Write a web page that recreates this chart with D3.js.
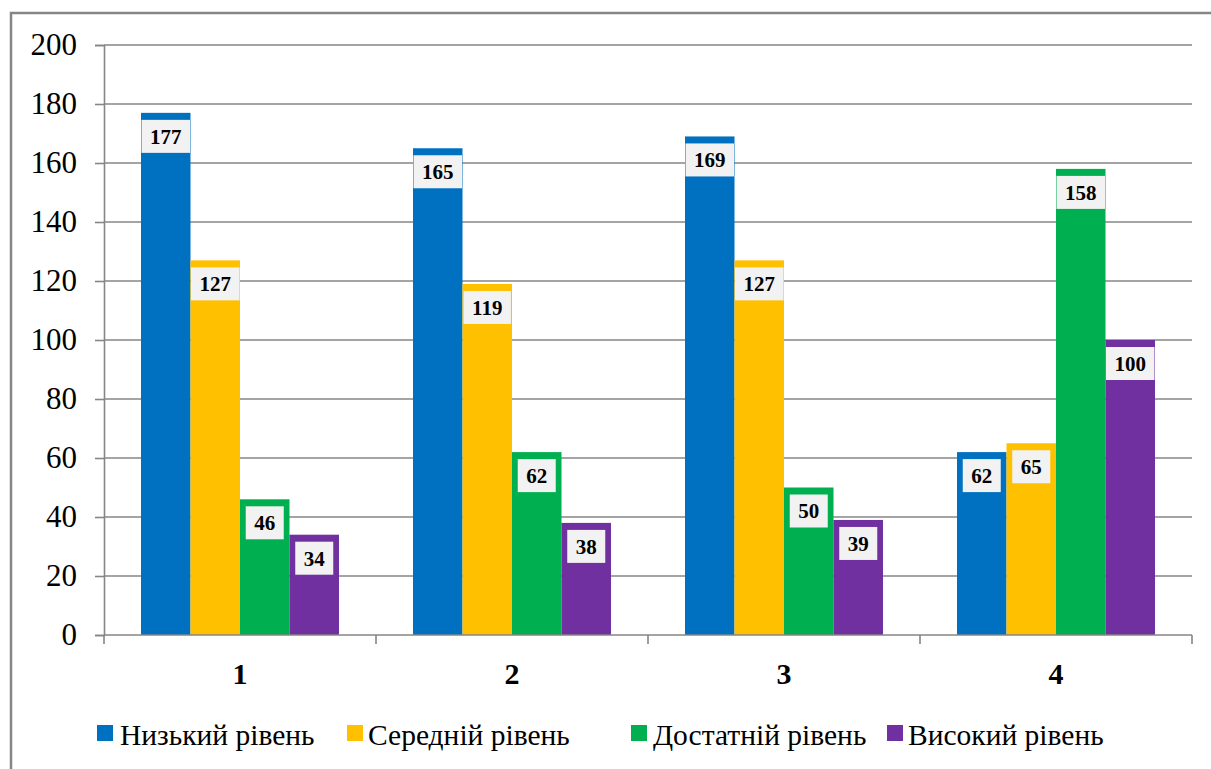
<!DOCTYPE html>
<html><head><meta charset="utf-8">
<script src="https://cdn.jsdelivr.net/npm/d3@7"></script>
<style>body{margin:0;background:#fff}svg{display:block}svg text{font-family:"Liberation Serif","Times New Roman",Tinos,"DejaVu Serif",serif}</style>
</head><body>
<svg id="c" width="1211" height="769"></svg>
<script>
const categories = ["1", "2", "3", "4"];
const seriesNames = ["Низький рівень", "Середній рівень", "Достатній рівень", "Високий рівень"];
const seriesColors = ["#0070C0", "#FFC000", "#00B050", "#7030A0"];
const low = [177, 165, 169, 62];
const medium = [127, 119, 127, 65];
const sufficient = [46, 62, 50, 158];
const high = [34, 38, 39, 100];
const yTicks = [0, 20, 40, 60, 80, 100, 120, 140, 160, 180, 200];

const seriesValues = [low, medium, sufficient, high];
const svg = d3.select("#c");
const serif = '"Liberation Serif","Times New Roman",Tinos,"DejaVu Serif",serif';

// outer border
svg.append("rect").attr("x", 11).attr("y", 13).attr("width", 1260).attr("height", 800)
  .attr("fill", "none").attr("stroke", "#868686").attr("stroke-width", 2.5);

const pLeft = 104, pRight = 1192, pTop = 45, pBottom = 635;
const x0 = d3.scaleBand().domain(categories).range([pLeft, pRight]).paddingInner(0).paddingOuter(0);
const x1 = d3.scaleBand().domain(d3.range(4)).range([0, x0.bandwidth()]).paddingOuter(37 / 49.5).paddingInner(0);
const y = d3.scaleLinear().domain([0, 200]).range([pBottom, pTop]);

// gridlines
svg.append("g").selectAll("line").data(yTicks.filter(d => d > 0)).join("line")
  .attr("x1", pLeft).attr("x2", pRight).attr("y1", d => y(d)).attr("y2", d => y(d))
  .attr("stroke", "#868686").attr("stroke-width", 1.6);

// y axis
const yAxis = d3.axisLeft(y).tickValues(yTicks).tickSize(9).tickPadding(18).tickFormat(d3.format("d"));
const yg = svg.append("g").attr("transform", `translate(${pLeft},0)`).call(yAxis);
yg.attr("font-family", null);
yg.select(".domain").attr("stroke", "#868686").attr("stroke-width", 1.6);
yg.selectAll(".tick line").attr("stroke", "#868686").attr("stroke-width", 1.6);
yg.selectAll(".tick text").style("font-family", serif).style("font-size", "31px").attr("fill", "#000");

// bars
const groups = svg.append("g").selectAll("g").data(categories).join("g")
  .attr("transform", d => `translate(${x0(d)},0)`);
groups.selectAll("rect").data((c, i) => seriesValues.map((s, k) => ({k, v: s[i]}))).join("rect")
  .attr("x", d => x1(d.k)).attr("width", x1.bandwidth())
  .attr("y", d => y(d.v)).attr("height", d => y(0) - y(d.v))
  .attr("fill", d => seriesColors[d.k]);

// x axis
const xAxis = d3.axisBottom(x0).tickSize(0).tickPadding(28).tickFormat(d => d);
const xg = svg.append("g").attr("transform", `translate(0,${pBottom})`).call(xAxis);
xg.attr("font-family", null);
xg.select(".domain").attr("stroke", "#868686").attr("stroke-width", 1.6).attr("d", `M${pLeft},0H${pRight}`);
xg.selectAll(".tick text").style("font-family", serif).style("font-size", "30px").style("font-weight", "bold").attr("fill", "#000").attr("dy", "0.71em");
xg.append("g").selectAll("line").data(categories.map(c => x0(c)).concat([pRight])).join("line")
  .attr("x1", d => d).attr("x2", d => d).attr("y1", 0).attr("y2", 9)
  .attr("stroke", "#868686").attr("stroke-width", 1.6);

// data labels
groups.each(function(c, i) {
  const g = d3.select(this);
  seriesValues.forEach((s, k) => {
    const v = s[i];
    const cx = x1(k) + x1.bandwidth() / 2;
    const cy = y(v) + 23.5;
    const t = g.append("text").attr("x", cx).attr("y", cy).attr("dy", "0.35em")
      .attr("text-anchor", "middle").style("font-family", serif).style("font-weight", "bold")
      .style("font-size", "21px").attr("fill", "#000").text(v);
    const w = t.node().getComputedTextLength() + 17;
    g.insert("rect", () => t.node()).attr("x", cx - w / 2).attr("y", cy - 16.5)
      .attr("width", w).attr("height", 33).attr("fill", "#F2F2F2");
  });
});

// legend
const legendX = [97, 347, 631, 887];
const lg = svg.append("g").selectAll("g").data(seriesNames).join("g")
  .attr("transform", (d, i) => `translate(${legendX[i]},0)`);
lg.append("rect").attr("x", 0).attr("y", 725).attr("width", 16).attr("height", 16)
  .attr("fill", (d, i) => seriesColors[i]);
lg.append("text").attr("x", d => 0).attr("dx", (d, i) => [23, 21, 22, 21][i]).attr("y", 745)
  .style("font-family", serif).style("font-size", "29.5px")
  .attr("fill", "#000").text(d => d);
</script>
</body></html>
